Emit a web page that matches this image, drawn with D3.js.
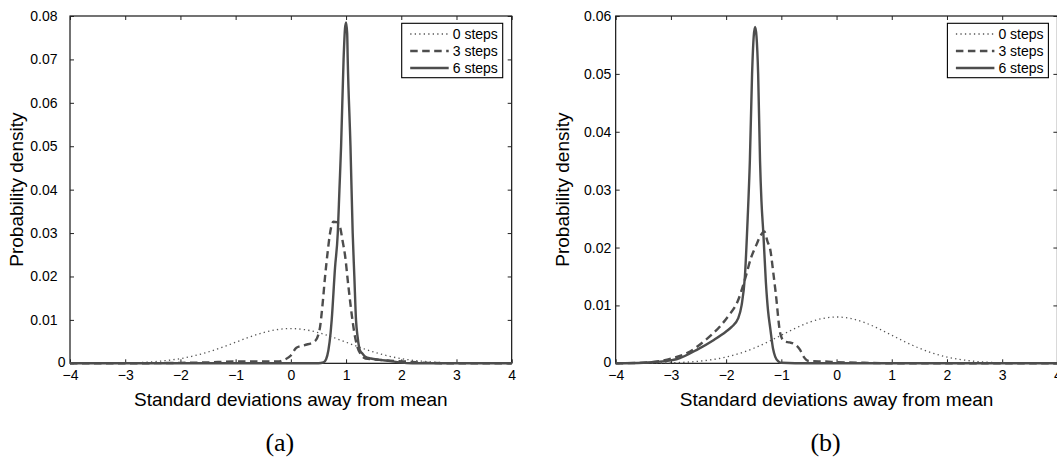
<html>
<head>
<meta charset="utf-8">
<style>
  body { margin: 0; background: #fff; }
  text { font-family: "Liberation Sans", Arial, Helvetica, sans-serif; fill: #000; }
</style>
</head>
<body>

<script src="https://d3js.org/d3.v7.min.js"></script>
<script>

    // ---- data ----
    // 0 steps (same curve in both panels)
    var s0x = [-4, -3.75, -3.5, -3.25, -3, -2.75, -2.5, -2.25, -2, -1.75, -1.5, -1.25, -1, -0.75, -0.5, -0.25,
               0, 0.25, 0.5, 0.75, 1, 1.25, 1.5, 1.75, 2, 2.25, 2.5, 2.75, 3, 3.25, 3.5, 3.75, 4];
    var s0y = [0, 0, 0.00002, 0.00004, 0.00009, 0.00018, 0.00035, 0.00064, 0.00108, 0.00173, 0.0026, 0.00366, 0.00485, 0.00604, 0.00706, 0.00775,
               0.008, 0.00775, 0.00706, 0.00604, 0.00485, 0.00366, 0.0026, 0.00173, 0.00108, 0.00064, 0.00035, 0.00018, 0.00009, 0.00004, 0.00002, 0, 0];

    // panel (a)
    var a3x = [-4, -3, -2, -1.5, -1.05, -0.5, -0.24, -0.12, 0, 0.1, 0.25, 0.43, 0.52, 0.57, 0.62, 0.67, 0.71, 0.77, 0.83, 0.89, 0.94, 0.98,
               1.04, 1.1, 1.15, 1.2, 1.27, 1.35, 1.5, 1.6, 1.8, 2.1, 2.2, 2.5, 3, 4];
    var a3y = [0, 0, 0.0001, 0.0002, 0.0004, 0.0004, 0.0004, 0.0008, 0.0018, 0.0036, 0.0042, 0.005, 0.0077, 0.013, 0.02, 0.026, 0.03, 0.0326, 0.0325, 0.0314, 0.028, 0.025,
               0.018, 0.0115, 0.007, 0.004, 0.002, 0.0011, 0.0009, 0.0008, 0.0006, 0.0004, 0.0003, 0.0001, 0, 0];
    var a6x = [-4, 0.5, 0.59, 0.64, 0.68, 0.72, 0.74, 0.8, 0.85, 0.88, 0.91, 0.955, 0.98, 1.0, 1.02, 1.03, 1.08, 1.12, 1.15, 1.18, 1.21, 1.25,
               1.3, 1.35, 1.45, 1.6, 1.8, 1.97, 2.2, 4];
    var a6y = [0, 0, 0.0002, 0.001, 0.003, 0.007, 0.01, 0.022, 0.03, 0.04, 0.05, 0.07, 0.077, 0.0785, 0.076, 0.07, 0.05, 0.03, 0.02, 0.01, 0.006, 0.003,
               0.0022, 0.0015, 0.0011, 0.0008, 0.0005, 0.0002, 0, 0];

    // panel (b)
    var b3x = [-4, -3.5, -3, -2.7, -2.4, -2.1, -1.95, -1.8, -1.65, -1.55, -1.45, -1.38, -1.31, -1.25, -1.2, -1.15, -1.1, -1.02, -0.95, -0.85,
               -0.78, -0.66, -0.6, -0.5, -0.2, 0, 0.5, 1, 4];
    var b3y = [0, 0.0001, 0.0008, 0.0018, 0.0038, 0.0065, 0.0083, 0.0105, 0.0148, 0.0182, 0.0205, 0.022, 0.0228, 0.021, 0.0196, 0.016, 0.012, 0.0052, 0.0038, 0.0036,
               0.0034, 0.0023, 0.0012, 0.0004, 0.0003, 0.0002, 0.0001, 0, 0];
    var b6x = [-4, -3.5, -3, -2.9, -2.5, -2.23, -2, -1.9, -1.78, -1.72, -1.66, -1.61, -1.57, -1.53, -1.5, -1.475, -1.45, -1.42, -1.386, -1.36,
               -1.326, -1.28, -1.24, -1.2, -1.15, -1.11, -1.05, -1, -0.5, 4];
    var b6y = [0, 0.0001, 0.0005, 0.0007, 0.0025, 0.004, 0.0055, 0.0063, 0.0078, 0.01, 0.015, 0.025, 0.035, 0.05, 0.0565, 0.0581, 0.0565, 0.05, 0.035, 0.028,
               0.0225, 0.014, 0.009, 0.006, 0.0025, 0.0011, 0.0003, 0.0001, 0, 0];

    var xTicks = [-4, -3, -2, -1, 0, 1, 2, 3, 4];
    var aTicks = [0, 0.01, 0.02, 0.03, 0.04, 0.05, 0.06, 0.07, 0.08];
    var bTicks = [0, 0.01, 0.02, 0.03, 0.04, 0.05, 0.06];
    var legendLabels = ["0 steps", "3 steps", "6 steps"];
    var panelNames = ["(a)", "(b)"];
    var xTitle = "Standard deviations away from mean";
    var yTitle = "Probability density";

    var width = 1057,
        height = 460;

    var svg = d3.select("body").append("svg").attr("width", width).attr("height", height);

    var styles = [
        {stroke: "#555", w: 1.3, dash: "1.3,3.2"},
        {stroke: "#4d4d4d", w: 2.4, dash: "7.5,4.5"},
        {stroke: "#4d4d4d", w: 2.4, dash: null}
    ];

    function zip(xs, ys) {
        return xs.map(function (x, i) { return {x: x, y: ys[i]}; });
    }

    function drawPanel(p) {
        var top = 16, bottom = 363.3;
        var x = d3.scaleLinear().domain([-4, 4]).range([p.left, p.right]);
        var y = d3.scaleLinear().domain([0, p.yMax]).range([bottom, top]);
        var g = svg.append("g");

        // frame
        g.append("rect").attr("x", p.left).attr("y", top)
            .attr("width", p.right - p.left).attr("height", bottom - top)
            .attr("fill", "none").attr("stroke", "#000").attr("stroke-width", 1.1);

        // axes, ticks pointing inward (matlab style)
        g.append("g").attr("transform", "translate(0," + bottom + ")")
            .call(d3.axisBottom(x).tickValues(xTicks).tickSizeInner(-4).tickSizeOuter(0).tickPadding(7));
        g.append("g").attr("transform", "translate(0," + top + ")")
            .call(d3.axisTop(x).tickValues(xTicks).tickSizeInner(-4).tickSizeOuter(0).tickFormat(""));
        var ya = g.append("g").attr("transform", "translate(" + p.left + ",0)")
            .call(d3.axisLeft(y).tickValues(p.yTicks).tickSizeInner(-4).tickSizeOuter(0).tickPadding(p.pad)
                .tickFormat(function (d) { return d === 0 ? "0" : d3.format(".2f")(d); }));
        g.append("g").attr("transform", "translate(" + p.right + ",0)")
            .call(d3.axisRight(y).tickValues(p.yTicks).tickSizeInner(-4).tickSizeOuter(0).tickFormat(""));

        g.selectAll(".domain").remove();
        g.selectAll(".tick line").attr("stroke", "#222");
        g.selectAll(".tick text").attr("font-size", 14).attr("fill", "#000")
            .style("font-family", '"Liberation Sans", Arial, sans-serif');
        ya.selectAll(".tick text").filter(function (d) { return d === 0; }).attr("x", -4.5).attr("dy", "0.25em");

        // curves
        var line = d3.line().x(function (d) { return x(d.x); }).y(function (d) { return y(d.y); })
            .curve(d3.curveMonotoneX);
        p.series.forEach(function (s, i) {
            g.append("path").datum(s).attr("d", line)
                .attr("fill", "none")
                .attr("stroke", styles[i].stroke)
                .attr("stroke-width", styles[i].w)
                .attr("stroke-dasharray", styles[i].dash)
                .attr("stroke-linejoin", "round");
        });

        // legend
        var lx = p.right - 9 - 101, ly = 23.3;
        var lg = g.append("g").attr("transform", "translate(" + lx + "," + ly + ")");
        lg.append("rect").attr("width", 101).attr("height", 54.4)
            .attr("fill", "#fff").attr("stroke", "#000").attr("stroke-width", 1.1);
        legendLabels.forEach(function (t, i) {
            var cy = 10.7 + i * 17;
            lg.append("line").attr("x1", 8.5).attr("x2", 47).attr("y1", cy).attr("y2", cy)
                .attr("stroke", styles[i].stroke).attr("stroke-width", styles[i].w)
                .attr("stroke-dasharray", styles[i].dash);
            lg.append("text").attr("x", 51).attr("y", cy + 5).attr("font-size", 14).text(t);
        });

        // titles
        var cx = (p.left + p.right) / 2;
        g.append("text").attr("x", cx).attr("y", 406).attr("text-anchor", "middle")
            .attr("font-size", 19).text(xTitle);
        g.append("text").attr("transform", "translate(" + (p.left - 47) + "," + ((top + bottom) / 2) + ") rotate(-90)")
            .attr("text-anchor", "middle").attr("font-size", 19).text(yTitle);
        g.append("text").attr("x", cx - 11).attr("y", 451).attr("text-anchor", "middle")
            .attr("font-size", 26).style("font-family", '"Liberation Serif", "Times New Roman", serif')
            .text(p.name);
    }

    drawPanel({
        left: 70, right: 511.7, yMax: 0.08, yTicks: aTicks, pad: 12.5, name: panelNames[0],
        series: [zip(s0x, s0y), zip(a3x, a3y), zip(a6x, a6y)]
    });
    drawPanel({
        left: 615.7, right: 1057.4, yMax: 0.06, yTicks: bTicks, pad: 4.5, name: panelNames[1],
        series: [zip(s0x, s0y), zip(b3x, b3y), zip(b6x, b6y)]
    });

</script>
</body>
</html>
